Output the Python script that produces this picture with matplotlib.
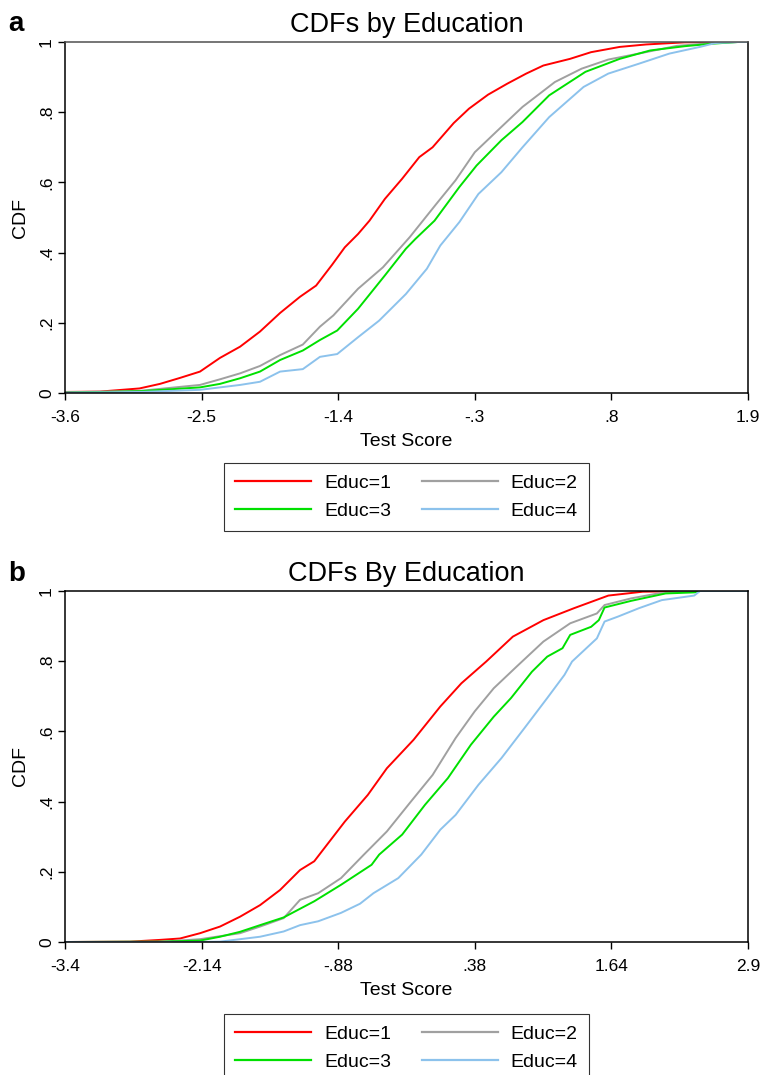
import matplotlib
matplotlib.use("Agg")
import matplotlib.pyplot as plt

plt.rcParams['font.family'] = ['Liberation Sans', 'DejaVu Sans']

# colours for the four education groups
labels = ["Educ=1", "Educ=2", "Educ=3", "Educ=4"]
colors = ["#ff0000", "#a0a0a0", "#00e000", "#8cc2ec"]

# ---- panel a : test score vs CDF ----
a_x1 = [-3.6, -3.32, -3.0, -2.835, -2.674, -2.513, -2.352, -2.19, -2.03, -1.868, -1.708,
        -1.578, -1.45, -1.347, -1.24, -1.148, -1.024, -0.886, -0.747, -0.64, -0.47, -0.347,
        -0.193, -0.04, 0.114, 0.252, 0.467, 0.636, 0.867, 1.08, 1.39, 1.605, 1.9]
a_y1 = [0.003, 0.004, 0.013, 0.026, 0.043, 0.061, 0.1, 0.132, 0.175, 0.228, 0.274,
        0.306, 0.365, 0.415, 0.453, 0.491, 0.553, 0.61, 0.672, 0.70, 0.769, 0.81,
        0.85, 0.881, 0.91, 0.933, 0.952, 0.971, 0.986, 0.993, 0.999, 1.0, 1.0]
a_x2 = [-3.6, -3.0, -2.513, -2.352, -2.19, -2.03, -1.868, -1.685, -1.547, -1.439, -1.24,
        -1.04, -0.824, -0.609, -0.455, -0.3, -0.116, 0.084, 0.345, 0.56, 0.775, 1.02,
        1.328, 1.605, 1.82, 1.9]
a_y2 = [0.002, 0.006, 0.023, 0.039, 0.056, 0.077, 0.108, 0.138, 0.189, 0.221, 0.297,
        0.358, 0.444, 0.539, 0.606, 0.686, 0.748, 0.815, 0.886, 0.924, 0.95, 0.967,
        0.989, 0.997, 1.0, 1.0]
a_x3 = [-3.6, -3.0, -2.513, -2.352, -2.19, -2.03, -1.868, -1.685, -1.547, -1.408, -1.24,
        -1.024, -0.855, -0.778, -0.624, -0.424, -0.286, -0.086, 0.084, 0.299, 0.591,
        0.867, 1.113, 1.39, 1.605, 1.82, 1.9]
a_y3 = [0.001, 0.005, 0.016, 0.026, 0.042, 0.061, 0.094, 0.121, 0.151, 0.178, 0.24,
        0.335, 0.411, 0.439, 0.491, 0.587, 0.648, 0.72, 0.772, 0.848, 0.915,
        0.952, 0.976, 0.988, 0.995, 1.0, 1.0]
a_x4 = [-3.6, -3.0, -2.513, -2.352, -2.19, -2.03, -1.868, -1.685, -1.547, -1.408, -1.24,
        -1.071, -0.855, -0.686, -0.578, -0.424, -0.271, -0.086, 0.084, 0.299, 0.576,
        0.775, 1.02, 1.267, 1.513, 1.636, 1.82, 1.9]
a_y4 = [0.001, 0.003, 0.009, 0.016, 0.023, 0.032, 0.061, 0.068, 0.103, 0.111, 0.159,
        0.206, 0.282, 0.354, 0.42, 0.487, 0.567, 0.629, 0.70, 0.786, 0.872,
        0.91, 0.938, 0.967, 0.986, 0.997, 1.0, 1.0]

# ---- panel b ----
b_x1 = [-3.4, -2.8, -2.524, -2.339, -2.155, -1.97, -1.786, -1.601, -1.417, -1.232, -1.101,
        -0.819, -0.607, -0.431, -0.185, 0.062, 0.256, 0.485, 0.731, 1.013, 1.295,
        1.612, 1.929, 2.387, 2.9]
b_y1 = [0.0, 0.001, 0.006, 0.01, 0.025, 0.044, 0.072, 0.105, 0.148, 0.205, 0.23,
        0.343, 0.419, 0.495, 0.576, 0.671, 0.737, 0.799, 0.87, 0.917, 0.951,
        0.987, 0.998, 1.0, 1.0]
b_x2 = [-3.4, -2.5, -2.155, -1.786, -1.601, -1.383, -1.232, -1.065, -0.854, -0.643,
        -0.431, -0.22, -0.009, 0.203, 0.379, 0.555, 0.767, 1.013, 1.26, 1.506, 1.577,
        1.823, 2.07, 2.387, 2.9]
b_y2 = [0.0, 0.001, 0.008, 0.025, 0.044, 0.068, 0.12, 0.139, 0.182, 0.249,
        0.315, 0.396, 0.476, 0.581, 0.657, 0.723, 0.785, 0.856, 0.908, 0.936, 0.96,
        0.979, 0.993, 1.0, 1.0]
b_x3 = [-3.4, -2.5, -2.155, -1.97, -1.786, -1.601, -1.383, -1.101, -0.854, -0.572, -0.502,
        -0.29, -0.079, 0.132, 0.344, 0.555, 0.714, 0.907, 1.048, 1.189, 1.26, 1.453,
        1.524, 1.577, 1.823, 2.14, 2.404, 2.457, 2.9]
b_y3 = [0.0, 0.001, 0.004, 0.015, 0.029, 0.048, 0.07, 0.116, 0.163, 0.22, 0.249,
        0.306, 0.391, 0.467, 0.562, 0.642, 0.695, 0.77, 0.813, 0.837, 0.875, 0.898,
        0.917, 0.953, 0.972, 0.993, 0.996, 1.0, 1.0]
b_x4 = [-3.4, -2.2, -1.97, -1.601, -1.383, -1.232, -1.065, -0.854, -0.679, -0.555, -0.326,
        -0.114, 0.062, 0.203, 0.414, 0.626, 0.837, 1.048, 1.207, 1.277, 1.506, 1.577,
        1.7, 1.894, 2.105, 2.404, 2.457, 2.9]
b_y4 = [0.0, 0.0, 0.001, 0.015, 0.03, 0.048, 0.059, 0.083, 0.109, 0.139, 0.182,
        0.249, 0.32, 0.362, 0.448, 0.524, 0.609, 0.695, 0.761, 0.799, 0.865, 0.913,
        0.927, 0.951, 0.974, 0.987, 1.0, 1.0]

a_ticks = [-3.6, -2.5, -1.4, -0.3, 0.8, 1.9]
a_ticklabels = ["-3.6", "-2.5", "-1.4", "-.3", ".8", "1.9"]
b_ticks = [-3.4, -2.14, -0.88, 0.38, 1.64, 2.9]
b_ticklabels = ["-3.4", "-2.14", "-.88", ".38", "1.64", "2.9"]
y_ticks = [0, 0.2, 0.4, 0.6, 0.8, 1.0]
y_ticklabels = ["0", ".2", ".4", ".6", ".8", "1"]

fig = plt.figure(figsize=(7.64, 10.75), dpi=100)
ax_a = fig.add_axes([65 / 764, 1 - 393 / 1075, 683 / 764, 351 / 1075])
ax_b = fig.add_axes([65 / 764, 1 - 942 / 1075, 683 / 764, 351 / 1075])


def draw_panel(ax, xs, ys, ticks, ticklabels, title, top_color):
    for x, y, c, lab in zip(xs, ys, colors, labels):
        ax.plot(x, y, color=c, lw=1.4, label=lab)
    ax.set_xlim(ticks[0], ticks[-1])
    ax.set_ylim(0, 1)
    ax.set_xticks(ticks)
    ax.set_xticklabels(ticklabels)
    ax.set_yticks(y_ticks)
    ax.set_yticklabels(y_ticklabels, rotation=90, va='center')
    ax.tick_params(direction='out', length=5, width=1, labelsize=12.5, pad=7)
    ax.tick_params(axis='y', pad=3)
    for s in ax.spines.values():
        s.set_linewidth(1.1)
        s.set_color('black')
    ax.spines['top'].set_color(top_color)
    ax.set_xlabel("Test Score", fontsize=14, labelpad=6)
    ax.set_ylabel("CDF", fontsize=14, labelpad=7)
    ax.set_title(title, fontsize=19.5, pad=7)


draw_panel(ax_a, [a_x1, a_x2, a_x3, a_x4], [a_y1, a_y2, a_y3, a_y4],
           a_ticks, a_ticklabels, "CDFs by Education", '#505050')
draw_panel(ax_b, [b_x1, b_x2, b_x3, b_x4], [b_y1, b_y2, b_y3, b_y4],
           b_ticks, b_ticklabels, "CDFs By Education", 'black')

# legends below each panel, two columns
for ax, ytop in [(ax_a, 463), (ax_b, 1014)]:
    h, l = ax.get_legend_handles_labels()
    order = [0, 2, 1, 3]
    leg = fig.legend([h[i] for i in order], [l[i] for i in order], ncol=2,
                     loc='upper center', bbox_to_anchor=(406.5 / 764, 1 - ytop / 1075),
                     fontsize=14, frameon=True, fancybox=False, edgecolor='black',
                     handlelength=3.9, handletextpad=0.65, columnspacing=1.6,
                     labelspacing=0.5, borderpad=0.6, borderaxespad=0)
    leg.get_frame().set_linewidth(0.8)
    for line in leg.get_lines():
        line.set_linewidth(1.6)

fig.text(8 / 764, 1 - 31 / 1075, "a", fontsize=20, fontweight='bold')
fig.text(8 / 764, 1 - 581 / 1075, "b", fontsize=20, fontweight='bold')

fig.savefig("out.png", dpi=100)
